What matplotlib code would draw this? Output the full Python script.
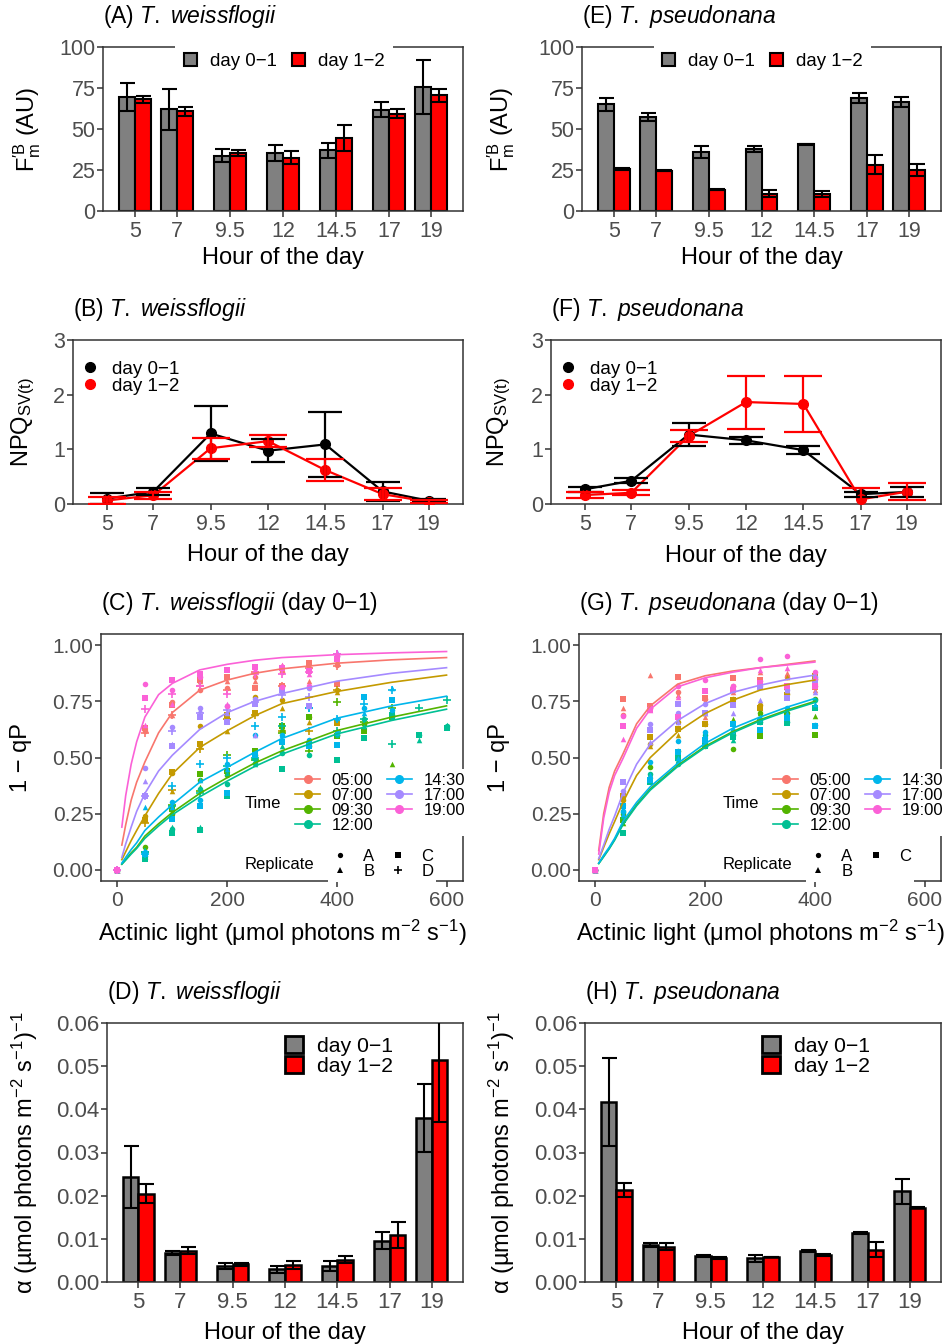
import numpy as np
import matplotlib
matplotlib.use("Agg")
import matplotlib.pyplot as plt
from matplotlib.lines import Line2D
from matplotlib.patches import Patch

plt.rcParams['font.family'] = 'Liberation Sans'
plt.rcParams['mathtext.fontset'] = 'custom'
plt.rcParams['mathtext.rm'] = 'Liberation Sans'
plt.rcParams['mathtext.it'] = 'Liberation Sans:italic'
plt.rcParams['mathtext.bf'] = 'Liberation Sans:bold'

# ---- shared categories ----
hours = [5, 7, 9.5, 12, 14.5, 17, 19]
hour_labels = ['5', '7', '9.5', '12', '14.5', '17', '19']
day_labels = ['day 0\u22121', 'day 1\u22122']

# ---- (A) / (E) F'm B ----
tw_fm_d01 = [69.5, 62.0, 33.7, 35.4, 37.0, 61.8, 75.6]
tw_fm_d01_se = [8.5, 12.5, 4.0, 5.0, 4.5, 4.7, 16.2]
tw_fm_d12 = [68.0, 60.8, 35.4, 32.5, 44.5, 59.3, 70.5]
tw_fm_d12_se = [2.2, 2.6, 1.6, 4.0, 8.0, 2.6, 3.9]

tp_fm_d01 = [65.0, 57.3, 35.8, 37.6, 40.6, 68.9, 66.5]
tp_fm_d01_se = [4.0, 2.5, 3.6, 1.8, 0.5, 3.0, 3.0]
tp_fm_d12 = [25.8, 24.4, 13.0, 10.6, 10.6, 28.3, 25.2]
tp_fm_d12_se = [0.5, 0.3, 0.3, 2.0, 1.8, 6.0, 3.7]

# ---- (B) / (F) NPQ ----
tw_npq_d01 = [0.10, 0.225, 1.29, 0.975, 1.09, 0.23, 0.06]
tw_npq_d01_se = [0.10, 0.065, 0.495, 0.21, 0.60, 0.18, 0.03]
tw_npq_d12 = [0.065, 0.16, 1.02, 1.15, 0.62, 0.18, 0.04]
tw_npq_d12_se = [0.06, 0.06, 0.19, 0.105, 0.20, 0.11, 0.03]

tp_npq_d01 = [0.27, 0.425, 1.27, 1.165, 0.985, 0.18, 0.22]
tp_npq_d01_se = [0.05, 0.045, 0.215, 0.065, 0.075, 0.045, 0.095]
tp_npq_d12 = [0.165, 0.205, 1.245, 1.865, 1.83, 0.085, 0.225]
tp_npq_d12_se = [0.06, 0.045, 0.11, 0.485, 0.52, 0.20, 0.155]

# ---- (D) / (H) alpha ----
tw_a_d01 = [0.0243, 0.0067, 0.0037, 0.0030, 0.0037, 0.0096, 0.0380]
tw_a_d01_se = [0.0072, 0.0004, 0.0007, 0.0008, 0.0011, 0.0019, 0.0078]
tw_a_d12 = [0.0204, 0.0072, 0.0041, 0.0040, 0.0052, 0.0109, 0.0514]
tw_a_d12_se = [0.0022, 0.0008, 0.0004, 0.0009, 0.0009, 0.0030, 0.0144]

tp_a_d01 = [0.0417, 0.0085, 0.0061, 0.0055, 0.0071, 0.0113, 0.0210]
tp_a_d01_se = [0.0101, 0.0005, 0.0002, 0.0008, 0.0002, 0.0002, 0.0029]
tp_a_d12 = [0.0213, 0.0082, 0.0055, 0.0058, 0.0062, 0.0075, 0.0172]
tp_a_d12_se = [0.0017, 0.0008, 0.0002, 0.0001, 0.0002, 0.0017, 0.0001]

# ---- (C) / (G) 1-qP vs actinic light ----
time_labels = ['05:00', '07:00', '09:30', '12:00', '14:30', '17:00', '19:00']
time_colors = ['#F8766D', '#C49A00', '#53B400', '#00C094', '#00B6EB', '#A58AFF', '#FB61D7']
rep_markers = {'A': 'o', 'B': '^', 'C': 's', 'D': '+'}

light_400 = [0, 50, 100, 150, 200, 250, 300, 350, 400]
light_500 = light_400 + [450, 500]
light_600 = light_500 + [550, 600]

tw_0500 = {'A': [0, 0.62, 0.745, 0.80, 0.81, 0.86, 0.88, 0.90, 0.91],
           'B': [0, 0.64, 0.69, 0.84, 0.84, 0.84, 0.91, 0.84, 0.93],
           'C': [0, 0.63, 0.735, 0.845, 0.86, 0.81, 0.82, 0.92, 0.826],
           'D': [0, 0.61, 0.69, 0.82, 0.80, 0.88, 0.82, 0.90, 0.908]}
tw_0700 = {'A': [0, 0.24, 0.43, 0.641, 0.67, 0.77, 0.755, 0.68, 0.80],
           'B': [0, 0.23, 0.35, 0.55, 0.616, 0.70, 0.72, 0.66, 0.79],
           'C': [0, 0.22, 0.434, 0.56, 0.69, 0.70, 0.64, 0.679, 0.655],
           'D': [0, 0.21, 0.356, 0.537, 0.67, 0.69, 0.62, 0.62, 0.80]}
tw_0930 = {'A': [0, 0.10, 0.25, 0.40, 0.42, 0.51, 0.62, 0.55, 0.60, 0.65, 0.69],
           'B': [0, 0.06, 0.28, 0.37, 0.45, 0.48, 0.64, 0.58, 0.61, 0.66, 0.47],
           'C': [0, 0.05, 0.27, 0.427, 0.44, 0.53, 0.64, 0.68, 0.595, 0.62, 0.68],
           'D': [0, 0.08, 0.29, 0.35, 0.51, 0.49, 0.61, 0.53, 0.745, 0.66, 0.72]}
tw_1200 = {'A': [0, 0.06, 0.182, 0.36, 0.38, 0.475, 0.52, 0.51, 0.60, 0.67, 0.68, 0.60, 0.64],
           'B': [0, 0.06, 0.19, 0.19, 0.43, 0.47, 0.55, 0.57, 0.62, 0.64, 0.70, 0.58, 0.645],
           'C': [0, 0.05, 0.164, 0.175, 0.33, 0.50, 0.45, 0.56, 0.49, 0.585, 0.69, 0.60, 0.63],
           'D': [0, 0.08, 0.286, 0.34, 0.46, 0.50, 0.64, 0.72, 0.62, 0.67, 0.56, 0.72, 0.755]}
tw_1430 = {'A': [0, 0.08, 0.30, 0.31, 0.47, 0.60, 0.60, 0.58, 0.61, 0.72, 0.71],
           'B': [0, 0.279, 0.28, 0.40, 0.45, 0.52, 0.60, 0.56, 0.678, 0.70, 0.81],
           'C': [0, 0.07, 0.226, 0.286, 0.34, 0.51, 0.57, 0.55, 0.555, 0.77, 0.755],
           'D': [0, 0.07, 0.375, 0.47, 0.50, 0.64, 0.68, 0.72, 0.67, 0.74, 0.80]}
tw_1700 = {'A': [0, 0.453, 0.637, 0.72, 0.73, 0.76, 0.79, 0.81, 0.95],
           'B': [0, 0.397, 0.56, 0.71, 0.70, 0.60, 0.80, 0.73, 0.97],
           'C': [0, 0.33, 0.55, 0.68, 0.66, 0.74, 0.80, 0.73, 0.94],
           'D': [0, 0.33, 0.62, 0.70, 0.71, 0.745, 0.78, 0.77, 0.96]}
tw_1900 = {'A': [0, 0.827, 0.80, 0.86, 0.73, 0.88, 0.815, 0.82, 0.95],
           'B': [0, 0.645, 0.74, 0.87, 0.74, 0.89, 0.91, 0.87, 0.96],
           'C': [0, 0.763, 0.846, 0.871, 0.89, 0.905, 0.90, 0.885, 0.94],
           'D': [0, 0.716, 0.782, 0.82, 0.785, 0.87, 0.87, 0.88, 0.96]}
tw_lights = [light_400, light_400, light_500, light_600, light_500, light_400, light_400]

tp_0500 = {'A': [0, 0.69, 0.72, 0.79, 0.76, 0.82, 0.84, 0.86, 0.82],
           'B': [0, 0.722, 0.868, 0.78, 0.68, 0.79, 0.88, 0.877, 0.80],
           'C': [0, 0.76, 0.73, 0.86, 0.764, 0.856, 0.845, 0.815, 0.815]}
tp_0700 = {'A': [0, 0.31, 0.56, 0.66, 0.65, 0.76, 0.733, 0.785, 0.85],
           'B': [0, 0.30, 0.55, 0.60, 0.70, 0.74, 0.72, 0.86, 0.84],
           'C': [0, 0.33, 0.593, 0.625, 0.65, 0.758, 0.72, 0.78, 0.862]}
tp_0930 = {'A': [0, 0.25, 0.456, 0.53, 0.55, 0.54, 0.70, 0.70, 0.76],
           'B': [0, 0.21, 0.42, 0.50, 0.60, 0.67, 0.70, 0.68, 0.684],
           'C': [0, 0.22, 0.39, 0.52, 0.55, 0.60, 0.595, 0.69, 0.60]}
tp_1200 = {'A': [0, 0.256, 0.427, 0.47, 0.60, 0.60, 0.66, 0.66, 0.755],
           'B': [0, 0.24, 0.42, 0.49, 0.56, 0.58, 0.67, 0.67, 0.73],
           'C': [0, 0.164, 0.39, 0.50, 0.55, 0.59, 0.66, 0.652, 0.72]}
tp_1430 = {'A': [0, 0.26, 0.478, 0.575, 0.615, 0.62, 0.67, 0.72, 0.645],
           'B': [0, 0.25, 0.42, 0.50, 0.60, 0.63, 0.68, 0.70, 0.74],
           'C': [0, 0.286, 0.40, 0.523, 0.58, 0.65, 0.622, 0.674, 0.64]}
tp_1700 = {'A': [0, 0.352, 0.649, 0.70, 0.738, 0.80, 0.82, 0.80, 0.86],
           'B': [0, 0.34, 0.57, 0.66, 0.70, 0.70, 0.755, 0.80, 0.79],
           'C': [0, 0.393, 0.622, 0.74, 0.70, 0.733, 0.815, 0.763, 0.837]}
tp_1900 = {'A': [0, 0.685, 0.72, 0.82, 0.845, 0.82, 0.94, 0.95, 0.88],
           'B': [0, 0.582, 0.71, 0.77, 0.80, 0.81, 0.89, 0.90, 0.86],
           'C': [0, 0.64, 0.71, 0.68, 0.797, 0.80, 0.83, 0.82, 0.82]}
tp_lights = [light_400] * 7

# fitted curves
tw_fit_x = [8, 15, 25, 35, 50, 75, 100, 150, 200, 250, 300, 400, 500, 600]
tw_fit_0500 = [0.11, 0.20, 0.31, 0.39, 0.48, 0.61, 0.70, 0.80, 0.845, 0.875, 0.895, 0.92, 0.935, 0.945]
tw_fit_0700 = [0.045, 0.08, 0.13, 0.175, 0.24, 0.34, 0.427, 0.545, 0.619, 0.686, 0.74, 0.794, 0.835, 0.867]
tw_fit_0930 = [0.025, 0.045, 0.075, 0.10, 0.15, 0.205, 0.255, 0.34, 0.41, 0.475, 0.53, 0.62, 0.68, 0.73]
tw_fit_1200 = [0.025, 0.043, 0.07, 0.095, 0.14, 0.195, 0.245, 0.325, 0.395, 0.46, 0.515, 0.605, 0.665, 0.715]
tw_fit_1430 = [0.03, 0.055, 0.09, 0.12, 0.175, 0.235, 0.29, 0.39, 0.456, 0.523, 0.585, 0.675, 0.73, 0.773]
tw_fit_1700 = [0.055, 0.115, 0.19, 0.26, 0.34, 0.44, 0.51, 0.625, 0.70, 0.75, 0.785, 0.84, 0.875, 0.90]
tw_fit_1900 = [0.19, 0.33, 0.47, 0.57, 0.68, 0.78, 0.83, 0.89, 0.915, 0.933, 0.945, 0.958, 0.966, 0.972]

tp_fit_x = [6, 15, 25, 35, 50, 75, 100, 150, 200, 250, 300, 350, 400]
tp_fit_0500 = [0.086, 0.25, 0.367, 0.44, 0.515, 0.65, 0.73, 0.827, 0.864, 0.885, 0.90, 0.915, 0.93]
tp_fit_0700 = [0.045, 0.10, 0.16, 0.215, 0.30, 0.42, 0.50, 0.615, 0.696, 0.755, 0.80, 0.825, 0.845]
tp_fit_0930 = [0.028, 0.06, 0.095, 0.135, 0.205, 0.29, 0.36, 0.465, 0.55, 0.615, 0.668, 0.712, 0.75]
tp_fit_1200 = [0.028, 0.058, 0.093, 0.132, 0.20, 0.285, 0.355, 0.46, 0.545, 0.61, 0.663, 0.707, 0.745]
tp_fit_1430 = [0.03, 0.065, 0.10, 0.14, 0.215, 0.30, 0.37, 0.474, 0.563, 0.63, 0.68, 0.725, 0.763]
tp_fit_1700 = [0.05, 0.11, 0.18, 0.24, 0.34, 0.47, 0.56, 0.665, 0.74, 0.79, 0.822, 0.848, 0.867]
tp_fit_1900 = [0.07, 0.23, 0.345, 0.42, 0.495, 0.63, 0.715, 0.815, 0.855, 0.88, 0.90, 0.912, 0.925]

GRAY = '#808080'
RED = '#FF0000'
AXC = '#333333'
TICKC = '#4D4D4D'
AXIS_FS = 17
TITLE_FS = 16.5

W, H = 947, 1344
fig = plt.figure(figsize=(W / 100, H / 100), dpi=100)


def rect(l, t, r, b):
    return [l / W, 1 - b / H, (r - l) / W, (b - t) / H]


def style(ax, fs):
    for s in ax.spines.values():
        s.set_color(AXC)
        s.set_linewidth(1.1)
    ax.tick_params(direction='out', length=4, width=1.1, color=AXC,
                   labelcolor=TICKC, labelsize=fs)
    ax.tick_params(axis='x', pad=3.5)
    ax.tick_params(axis='y', pad=1.5)


def title(ax, letter, species, extra=''):
    ax.set_title(r'(%s) $\mathit{%s}$%s' % (letter, species.replace(' ', r'\ '), extra),
                 loc='left', fontsize=TITLE_FS, pad=17)


def bar_panel(ax, d01, e01, d12, e12, lw):
    x = np.array(hours)
    w = 0.75
    ax.bar(x - w / 2, d01, w, color=GRAY, edgecolor='black', linewidth=lw, zorder=2)
    ax.bar(x + w / 2, d12, w, color=RED, edgecolor='black', linewidth=lw, zorder=2)
    ax.errorbar(x - w / 2, d01, yerr=e01, fmt='none', ecolor='black',
                elinewidth=1.5, capsize=5.4, capthick=1.5, zorder=3)
    ax.errorbar(x + w / 2, d12, yerr=e12, fmt='none', ecolor='black',
                elinewidth=1.5, capsize=5.4, capthick=1.5, zorder=3)
    ax.set_xlim(3.5, 20.5)
    ax.set_xticks(hours, hour_labels)


def npq_panel(ax, d01, e01, d12, e12):
    x = np.array(hours)
    ax.plot(x, d01, color='black', lw=1.6, zorder=2)
    ax.plot(x, d12, color=RED, lw=1.6, zorder=2)
    ax.plot(x, d01, 'o', color='black', ms=7, zorder=3)
    ax.plot(x, d12, 'o', color=RED, ms=7, zorder=3)
    ax.errorbar(x, d01, yerr=e01, fmt='none', ecolor='black', elinewidth=1.6,
                capsize=12, capthick=1.6, zorder=4)
    ax.errorbar(x, d12, yerr=e12, fmt='none', ecolor=RED, elinewidth=1.6,
                capsize=14, capthick=1.6, zorder=4)
    ax.set_xlim(3.5, 20.5)
    ax.set_ylim(0, 3)
    ax.set_xticks(hours, hour_labels)
    ax.set_yticks([0, 1, 2, 3])
    ax.set_ylabel(r'NPQ$_{\mathrm{SV(t)}}$', fontsize=AXIS_FS)
    h = [Line2D([], [], marker='o', ls='none', color=c, ms=7) for c in ['black', RED]]
    ax.legend(h, day_labels, loc='upper left', bbox_to_anchor=(0.02, 0.875),
              frameon=False, fontsize=13.5, handlelength=1.0, handletextpad=0.68,
              labelspacing=0.0, borderpad=0, borderaxespad=0)


def qp_panel(ax, lights, groups, fit_x, fits, reps):
    for c, lt, g in zip(time_colors, lights, groups):
        for r in reps:
            m = rep_markers[r]
            if m == '+':
                ax.scatter(lt, g[r], marker='+', s=34, color=c, linewidths=1.2, zorder=2)
            else:
                ax.scatter(lt, g[r], marker=m, s=16, color=c, linewidths=0, zorder=2)
    for c, f in zip(time_colors, fits):
        ax.plot(fit_x, f, color=c, lw=1.2, zorder=3)
    ax.set_xlim(-30, 630)
    ax.set_ylim(-0.05, 1.05)
    ax.set_xticks([0, 200, 400, 600])
    ax.set_yticks([0, 0.25, 0.5, 0.75, 1.0], ['0.00', '0.25', '0.50', '0.75', '1.00'])
    ax.set_ylabel('1 \u2212 qP', fontsize=AXIS_FS)
    ax.set_xlabel(r'Actinic light ($\mathrm{\mu}$mol photons m$^{-2}$ s$^{-1}$)', fontsize=AXIS_FS)
    th = [Line2D([], [], color=c, lw=1.2, marker='o', ms=5.5) for c in time_colors]
    leg = ax.legend(th, time_labels, ncol=2, loc='upper left', bbox_to_anchor=(0.527, 0.452),
                    fontsize=12, handlelength=1.5, handletextpad=0.7, columnspacing=0.8,
                    labelspacing=0.0, borderpad=0.2, borderaxespad=0, frameon=True,
                    facecolor='white', edgecolor='none', framealpha=1, fancybox=False)
    ax.add_artist(leg)
    ax.text(0.398, 0.312, 'Time', transform=ax.transAxes, ha='left', va='center', fontsize=12)
    rh = [Line2D([], [], color='black', ls='none', marker=rep_markers[r],
                 ms=6 if rep_markers[r] == '+' else 3.8, mew=1.2 if rep_markers[r] == '+' else 0)
          for r in reps]
    ax.legend(rh, reps, ncol=2, loc='upper left', bbox_to_anchor=(0.628, 0.144),
              fontsize=12, handlelength=1.0, handletextpad=0.9, columnspacing=0.9,
              labelspacing=0.0, borderpad=0.2, borderaxespad=0, frameon=True,
              facecolor='white', edgecolor='none', framealpha=1, fancybox=False)
    ax.text(0.398, 0.065, 'Replicate', transform=ax.transAxes, ha='left', va='center', fontsize=12)


def fm_panel(ax, d01, e01, d12, e12):
    bar_panel(ax, d01, e01, d12, e12, 1.5)
    ax.set_ylim(0, 100)
    ax.set_yticks([0, 25, 50, 75, 100])
    ax.set_ylabel(r'F$_{\mathrm{m}}^{\prime\mathrm{B}}$ (AU)', fontsize=AXIS_FS)
    h = [Patch(facecolor=GRAY, edgecolor='black', lw=1.5), Patch(facecolor=RED, edgecolor='black', lw=1.5)]
    leg = ax.legend(h, day_labels, ncol=2, loc='center', bbox_to_anchor=(0.503, 0.91),
                    fontsize=13.4, handlelength=0.7, handleheight=0.7, handletextpad=0.7,
                    columnspacing=0.8, borderpad=0.45, borderaxespad=0, frameon=True,
                    facecolor='white', edgecolor='none', framealpha=1, fancybox=False)
    leg.set_zorder(10)


def alpha_panel(ax, d01, e01, d12, e12, x0):
    bar_panel(ax, d01, e01, d12, e12, 1.8)
    ax.set_ylim(0, 0.06)
    yt = [0, 0.01, 0.02, 0.03, 0.04, 0.05, 0.06]
    ax.set_yticks(yt, ['%.2f' % v for v in yt])
    ax.set_ylabel('\u03b1 (\u00b5mol photons m$^{-2}$ s$^{-1}$)$^{-1}$', fontsize=AXIS_FS)
    h = [Patch(facecolor=GRAY, edgecolor='black', lw=2), Patch(facecolor=RED, edgecolor='black', lw=2)]
    ax.legend(h, day_labels, loc='upper left', bbox_to_anchor=(x0, 0.948),
              fontsize=15.3, handlelength=0.85, handleheight=0.85, handletextpad=0.66,
              labelspacing=0.0, borderpad=0, borderaxespad=0, frameon=False)


# ---- build panels ----
axA = fig.add_axes(rect(103, 47, 463, 211))
axE = fig.add_axes(rect(582, 47, 941, 211))
axB = fig.add_axes(rect(73, 340, 463, 504))
axF = fig.add_axes(rect(551, 340, 941, 504))
axC = fig.add_axes(rect(101, 634, 463, 881))
axG = fig.add_axes(rect(579, 634, 941, 881))
axD = fig.add_axes(rect(107, 1023, 463, 1282))
axH = fig.add_axes(rect(585, 1023, 941, 1282))

fm_panel(axA, tw_fm_d01, tw_fm_d01_se, tw_fm_d12, tw_fm_d12_se)
fm_panel(axE, tp_fm_d01, tp_fm_d01_se, tp_fm_d12, tp_fm_d12_se)
npq_panel(axB, tw_npq_d01, tw_npq_d01_se, tw_npq_d12, tw_npq_d12_se)
npq_panel(axF, tp_npq_d01, tp_npq_d01_se, tp_npq_d12, tp_npq_d12_se)

tw_groups = [tw_0500, tw_0700, tw_0930, tw_1200, tw_1430, tw_1700, tw_1900]
tw_fits = [tw_fit_0500, tw_fit_0700, tw_fit_0930, tw_fit_1200, tw_fit_1430, tw_fit_1700, tw_fit_1900]
tp_groups = [tp_0500, tp_0700, tp_0930, tp_1200, tp_1430, tp_1700, tp_1900]
tp_fits = [tp_fit_0500, tp_fit_0700, tp_fit_0930, tp_fit_1200, tp_fit_1430, tp_fit_1700, tp_fit_1900]
qp_panel(axC, tw_lights, tw_groups, tw_fit_x, tw_fits, ['A', 'B', 'C', 'D'])
qp_panel(axG, tp_lights, tp_groups, tp_fit_x, tp_fits, ['A', 'B', 'C'])

alpha_panel(axD, tw_a_d01, tw_a_d01_se, tw_a_d12, tw_a_d12_se, 0.50)
alpha_panel(axH, tp_a_d01, tp_a_d01_se, tp_a_d12, tp_a_d12_se, 0.497)

title(axA, 'A', 'T. weissflogii')
title(axE, 'E', 'T. pseudonana')
title(axB, 'B', 'T. weissflogii')
title(axF, 'F', 'T. pseudonana')
title(axC, 'C', 'T. weissflogii', ' (day 0\u22121)')
title(axG, 'G', 'T. pseudonana', ' (day 0\u22121)')
title(axD, 'D', 'T. weissflogii')
title(axH, 'H', 'T. pseudonana')

for ax in [axA, axE, axB, axF, axD, axH]:
    ax.set_xlabel('Hour of the day', fontsize=AXIS_FS)

for ax, fs in [(axA, 15.5), (axE, 15.5), (axB, 15.5), (axF, 15.5),
               (axC, 15), (axG, 15), (axD, 16), (axH, 16)]:
    style(ax, fs)

# label placement
ylab_x = {axA: -0.167, axE: -0.181, axB: -0.092, axF: -0.097,
          axC: -0.19, axG: -0.19, axD: -0.188, axH: -0.19}
xlab_y = {axA: -0.22, axE: -0.22, axB: -0.244, axF: -0.25,
          axC: -0.15, axG: -0.15, axD: -0.153, axH: -0.153}
for ax in ylab_x:
    ax.yaxis.set_label_coords(ylab_x[ax], 0.5)
    ax.xaxis.set_label_coords(0.5, xlab_y[ax])

fig.savefig('out.png', dpi=100)
